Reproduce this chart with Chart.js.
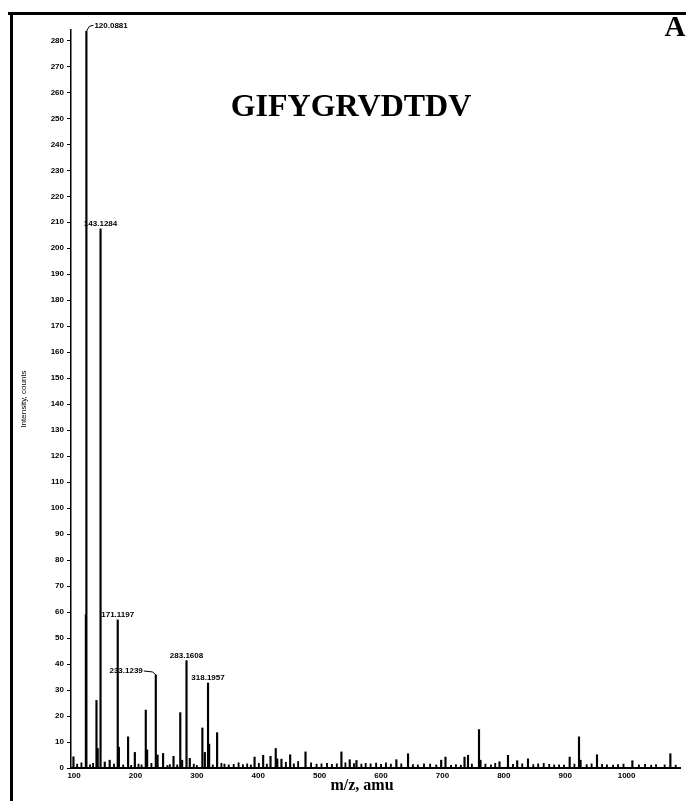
<!DOCTYPE html>
<html>
<head>
<meta charset="utf-8">
<script src="https://cdn.jsdelivr.net/npm/chart.js@4/dist/chart.umd.min.js"></script>
<style>
  body { margin: 0; background: #fff; }
  canvas { display: block; }
</style>
</head>
<body>
<canvas id="myChart" width="686" height="801"></canvas>
<script>
// labelled fragment peaks
const peakMz = [120.0881, 143.1284, 171.1197, 233.1239, 283.1608, 318.1957]
const peakInt = [283.5, 207.5, 57, 35.8, 41.3, 32.7]
const peakLabels = ["120.0881", "143.1284", "171.1197", "233.1239", "283.1608", "318.1957"]

// other peaks, unlabelled
const minorMz = [99, 119.2, 136.5, 138.5, 150, 158, 173, 188, 199, 216.8,
    219, 236, 245, 262, 273, 276, 288.5, 309, 313, 320,
    333, 394, 408, 420, 428.5, 431, 437.8, 452, 477, 535.5,
    549, 560, 625, 644, 698, 705, 736, 741.7, 759.6, 762,
    793, 806.8, 821.8, 839.4, 907.3, 922.5, 925, 951.8, 1009.4, 1071.3]
const minorInt = [4.3, 59, 26, 7.5, 2.3, 3, 8, 12, 6, 22.3,
    7, 5, 5.6, 4.5, 21.3, 3, 3.7, 15.4, 6, 9.2,
    13.6, 4.2, 4.9, 4.5, 7.5, 3.5, 3.4, 5.1, 6.2, 6.2,
    3.2, 2.9, 3.2, 5.5, 3, 4.2, 4.2, 4.9, 14.8, 3,
    2.4, 4.9, 2.8, 3.5, 4.2, 12, 3, 5.1, 2.8, 5.5]

// baseline noise
const noiseMz = [105, 112, 126, 131, 165, 180, 193, 205, 210, 226,
    252, 256, 268, 295, 300, 326, 340, 345, 352, 360,
    368, 375, 382, 388, 401, 414, 445, 458, 465, 486,
    495, 503, 512, 520, 528, 542, 556, 568, 575, 583,
    592, 600, 608, 616, 633, 652, 660, 670, 680, 690,
    714, 722, 730, 748, 770, 779, 786, 815, 830, 848,
    856, 865, 874, 882, 890, 898, 915, 935, 943, 960,
    968, 978, 986, 995, 1020, 1030, 1040, 1048, 1062, 1080]
const noiseInt = [1.5, 2, 1.2, 1.8, 1.5, 1.2, 1, 1.5, 1.2, 1.8,
    1, 1.3, 1.2, 1.5, 1, 1.2, 1.8, 1.5, 1.2, 1.4,
    2, 1.3, 1.6, 1.2, 1.8, 1.5, 2.2, 1.6, 2.5, 2,
    1.5, 1.6, 1.8, 1.4, 1.6, 2, 1.7, 1.5, 1.8, 1.6,
    1.9, 1.4, 2, 1.5, 1.6, 1.3, 1.2, 1.6, 1.5, 1.2,
    1, 1.3, 1.1, 1.5, 1.5, 1.2, 1.8, 1.4, 1.6, 1.3,
    1.6, 1.8, 1.4, 1.2, 1.2, 1.1, 1.5, 1.3, 1.6, 1.4,
    1.2, 1.1, 1.3, 1.5, 1.2, 1.4, 1.1, 1.3, 1.2, 1.1]

const xTicks = [100, 200, 300, 400, 500, 600, 700, 800, 900, 1000]

const peptide = "GIFYGRVDTDV"
const panelLetter = "A"
const xTitle = "m/z, amu"
const yTitle = "Intensity, counts"

function toPoints(mz, ints){
    let pts = []
    for (let i in mz){
        pts.push({x: mz[i], y: ints[i]})
    }
    return pts
}

const sansBold = {family: "'Liberation Sans', Arial, sans-serif", size: 8, weight: "bold"}

// frame, title text and peak annotations
const decorPlugin = {
    id: "decor",
    afterDraw(chart){
        const ctx = chart.ctx
        const xs = chart.scales.x
        const ys = chart.scales.y
        ctx.save()

        // frame lines top and left
        ctx.fillStyle = "#000"
        ctx.fillRect(8, 12, 686, 3)
        ctx.fillRect(10, 12, 3, 801)

        ctx.textAlign = "center"
        ctx.textBaseline = "middle"
        ctx.font = "bold 32px 'Liberation Serif', 'Times New Roman', serif"
        ctx.fillText(peptide, 351, 108)
        ctx.font = "bold 29px 'Liberation Serif', 'Times New Roman', serif"
        ctx.fillText(panelLetter, 675, 29)
        ctx.font = "bold 16px 'Liberation Serif', 'Times New Roman', serif"
        ctx.fillText(xTitle, 362, 786)

        // peak labels
        ctx.font = "bold 8px 'Liberation Sans', Arial, sans-serif"
        ctx.strokeStyle = "#000"
        ctx.lineWidth = 1
        for (let i in peakMz){
            const px = xs.getPixelForValue(peakMz[i])
            const top = ys.getPixelForValue(peakInt[i])
            const txt = peakLabels[i]
            if (i == 0){
                ctx.beginPath()
                ctx.moveTo(px, top)
                ctx.lineTo(px + 3, top - 5)
                ctx.lineTo(px + 7, top - 6)
                ctx.stroke()
                ctx.textAlign = "left"
                ctx.fillText(txt, px + 8, top - 6)
            } else if (i == 3){
                ctx.beginPath()
                ctx.moveTo(px - 12, top - 4)
                ctx.lineTo(px - 3, top - 3)
                ctx.lineTo(px, top)
                ctx.stroke()
                ctx.textAlign = "right"
                ctx.fillText(txt, px - 13, top - 4)
            } else {
                ctx.textAlign = "center"
                ctx.fillText(txt, px, top - 5)
            }
        }
        ctx.restore()
    }
}

function setup(){
    new Chart("myChart", {
        type: "bar",
        data: {
            datasets: [
                {data: toPoints(peakMz, peakInt), backgroundColor: "#000", barThickness: 1.5},
                {data: toPoints(minorMz, minorInt), backgroundColor: "#000", barThickness: 1.5},
                {data: toPoints(noiseMz, noiseInt), backgroundColor: "#000", barThickness: 1.2}
            ]
        },
        options: {
            responsive: false,
            animation: false,
            grouped: false,
            layout: {padding: {left: 19, right: 6, top: 30, bottom: 0}},
            plugins: {legend: {display: false}, tooltip: {enabled: false}},
            scales: {
                x: {
                    type: "linear",
                    offset: false,
                    min: 95,
                    max: 1087,
                    grid: {display: false, drawTicks: false, tickLength: 0, offset: false},
                    border: {display: true, color: "#000", width: 2},
                    afterBuildTicks: s => { s.ticks = xTicks.map(v => ({value: v})) },
                    ticks: {autoSkip: false, maxRotation: 0, color: "#000", font: sansBold, padding: 3,
                        callback: v => String(v)},
                    afterFit: s => { s.height = 33 }
                },
                y: {
                    min: 0,
                    max: 284,
                    grid: {display: true, drawOnChartArea: false, drawTicks: true, tickLength: 4, color: "#000"},
                    border: {display: true, color: "#000", width: 1.5},
                    ticks: {stepSize: 10, includeBounds: false, autoSkip: false, color: "#000",
                        font: sansBold, padding: 3},
                    title: {display: true, text: yTitle, color: "#000", padding: {top: 0, bottom: 0},
                        font: {family: "'Liberation Sans', Arial, sans-serif", size: 8}},
                    afterFit: s => { s.width = 52 }
                }
            }
        },
        plugins: [decorPlugin]
    })
}

setup()
</script>
</body>
</html>
